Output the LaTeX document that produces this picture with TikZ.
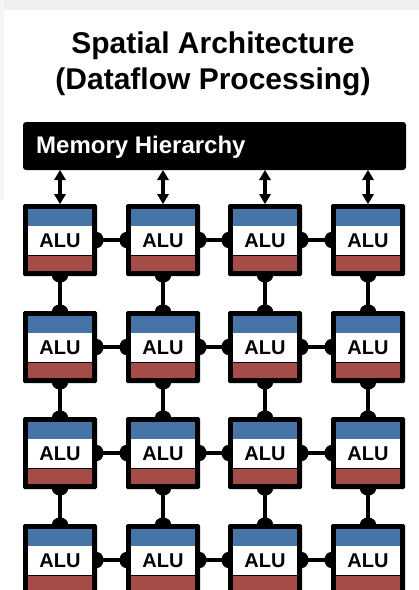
\documentclass[tikz,border=0pt]{standalone}
\usepackage{fontspec}
\setmainfont{Liberation Sans}
\definecolor{alublue}{RGB}{70,116,166}
\definecolor{alured}{RGB}{166,76,70}
\definecolor{panelgray}{RGB}{240,240,240}
\begin{document}
\begin{tikzpicture}[x=1pt,y=-1pt,
  wire/.style={line width=4pt,black},
  bump/.style={fill=black},
  shaft/.style={line width=4.5pt,black},
  tip/.style={fill=black},
  alutext/.style={font=\bfseries\fontsize{20}{24}\selectfont,text=black}]
% page and light frame strips
\useasboundingbox (0,0) rectangle (419,590);
\fill[white] (0,0) rectangle (419,590);
\fill[panelgray] (0,0) rectangle (419,10);
\fill[panelgray!60] (0,0) rectangle (4,200);
% title
\node[font=\bfseries\fontsize{30}{36}\selectfont] (title) at (213,64)
  {\begin{tabular}{c}Spatial Architecture\\(Dataflow Processing)\end{tabular}};
% memory bar
\fill[black,rounded corners=3pt] (23,122) rectangle (406,170);
\node[anchor=west,text=white,font=\bfseries\fontsize{24}{28}\selectfont,inner sep=0pt] (mem) at (36,147) {Memory Hierarchy};
\coordinate (membar) at (214,170);
% grid geometry
\def\colx{{60,163,265,368}}
\def\rowy{{240,347,453,560}}
\foreach \c in {0,1,2,3}{
  \foreach \r in {0,1,2,3}{
    \pgfmathsetmacro{\cx}{\colx[\c]}
    \pgfmathsetmacro{\cy}{\rowy[\r]}
    \coordinate (p-\c-\r) at (\cx,\cy);
  }
}
% wires and bumps (drawn under the boxes)
\foreach \r in {0,1,2,3}{
  \foreach \c/\n in {0/1,1/2,2/3}{
    \draw[wire] ([xshift=36pt]p-\c-\r) -- ([xshift=-36pt]p-\n-\r);
    \fill[bump] ([xshift=37pt]p-\c-\r) ellipse (6.5pt and 8pt);
    \fill[bump] ([xshift=-37pt]p-\n-\r) ellipse (6.5pt and 8pt);
  }
}
\foreach \c in {0,1,2,3}{
  \foreach \r/\n in {0/1,1/2,2/3}{
    \draw[wire] ([yshift=-35pt]p-\c-\r) -- ([yshift=35pt]p-\c-\n);
    \fill[bump] ([yshift=-36pt]p-\c-\r) ellipse (8pt and 6.5pt);
    \fill[bump] ([yshift=36pt]p-\c-\n) ellipse (8pt and 6.5pt);
  }
}
% ALU boxes
\foreach \c in {0,1,2,3}{
  \foreach \r in {0,1,2,3}{
    \begin{scope}[shift={(p-\c-\r)}]
      \fill[black,rounded corners=1.5pt] (-37,-36) rectangle (37,36);
      \fill[alublue] (-32,-31) rectangle (32,-14);
      \fill[white] (-32,-14) rectangle (32,15);
      \fill[alured] (-32,16) rectangle (32,31);
    \end{scope}
    \node[alutext] (alu-\c-\r) at ([yshift=-1pt]p-\c-\r) {ALU};
  }
}
% two-way links between the memory bar and the top row
\foreach \c in {0,1,2,3}{
  \coordinate (bot-\c) at ([yshift=36pt]p-\c-0);
  \coordinate (mem-\c) at (bot-\c |- membar);
  \draw[shaft] ([yshift=-6pt]mem-\c) -- ([yshift=6pt]bot-\c);
  \fill[tip] (mem-\c) -- ++(-6,10) -- ++(12,0) -- cycle;
  \fill[tip] (bot-\c) -- ++(-6,-10) -- ++(12,0) -- cycle;
}
\end{tikzpicture}
\end{document}
